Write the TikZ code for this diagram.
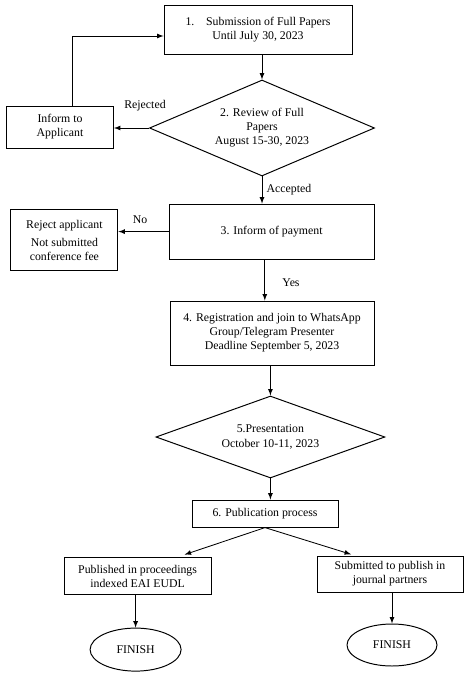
\documentclass[tikz,border=0pt]{standalone}
\usepackage{fontspec}
\setmainfont{Liberation Serif}
\usetikzlibrary{arrows,shapes}

\begin{document}
\begin{tikzpicture}[font=\fontsize{8.4}{10}\selectfont, >=latex,
  box/.style={draw, line width=0.7pt, align=center, inner sep=1pt},
  dia/.style={draw, diamond, line width=0.7pt, align=center, aspect=2.4, inner sep=0pt},
  fin/.style={draw, ellipse, line width=0.7pt, inner sep=0pt},
  arr/.style={->, line width=0.6pt}]
\useasboundingbox (0,0) rectangle (11.85,-17);
\node[box, minimum width=4.7cm, minimum height=1.225cm] (sub) at (6.45,-0.75) {1.\quad Submission of Full Papers\\Until July 30, 2023};
\node[dia, minimum width=5.625cm, minimum height=2.4cm] (rev) at (6.55,-3.2) {2. Review of Full\\Papers\\August 15-30, 2023};
\node[box, minimum width=2.675cm, minimum height=1.05cm] (inform) at (1.5,-3.175) {Inform to\\Applicant};
\node[box, minimum width=5.125cm, minimum height=1.375cm] (pay) at (6.79,-5.79) {3. Inform of payment};
\node[box, minimum width=2.675cm, minimum height=1.525cm] (reject) at (1.61,-6.01) {Reject applicant\\[3pt]Not submitted\\conference fee};
\node[box, minimum width=5.1cm, minimum height=1.6cm] (reg) at (6.8,-8.325) {4. Registration and join to WhatsApp\\Group/Telegram Presenter\\Deadline September 5, 2023};
\node[dia, minimum width=5.725cm, minimum height=2.05cm] (pres) at (6.76,-10.925) {5.Presentation\\October 10-11, 2023};
\node[box, minimum width=3.65cm, minimum height=0.675cm] (pub) at (6.625,-12.84) {6. Publication process};
\node[box, minimum width=3.675cm, minimum height=0.925cm] (procl) at (3.44,-14.41) {Published in proceedings\\indexed EAI EUDL};
\node[box, minimum width=3.65cm, minimum height=0.9cm] (jour) at (9.75,-14.35) {Submitted to publish in\\journal partners};
\node[fin, minimum width=2.275cm, minimum height=1.075cm] (finl) at (3.39,-16.24) {FINISH};
\node[fin, minimum width=2.25cm, minimum height=1.05cm] (finr) at (9.8,-16.125) {FINISH};
% connectors
\draw[arr] (sub.south -| rev.north) -- (rev.north);
\draw[arr] (rev.west) -- (rev.west -| inform.east);
\node at (3.625,-2.65) {Rejected};
\draw[arr] ([xshift=0.3cm]inform.north) |- ([yshift=-0.15cm]sub.west);
\draw[arr] (rev.south) -- (rev.south |- pay.north);
\node at (7.225,-4.75) {Accepted};
\draw[arr] (pay.west) -- (pay.west -| reject.east);
\node at (3.5,-5.5) {No};
\draw[arr] ([xshift=-0.17cm]pay.south) -- ([xshift=-0.17cm]pay.south |- reg.north);
\node at (7.275,-7.075) {Yes};
\draw[arr] (reg.south -| pres.north) -- (pres.north);
\draw[arr] (pres.south) -- (pres.south |- pub.north);
\draw[arr] (pub.south) -- ([xshift=1.175cm,yshift=0.07cm]procl.north);
\draw[arr] (pub.south) -- ([xshift=-0.975cm,yshift=0.03cm]jour.north);
\draw[arr] (procl.south -| finl.north) -- (finl.north);
\draw[arr] (jour.south -| finr.north) -- (finr.north);
\end{tikzpicture}
\end{document}
